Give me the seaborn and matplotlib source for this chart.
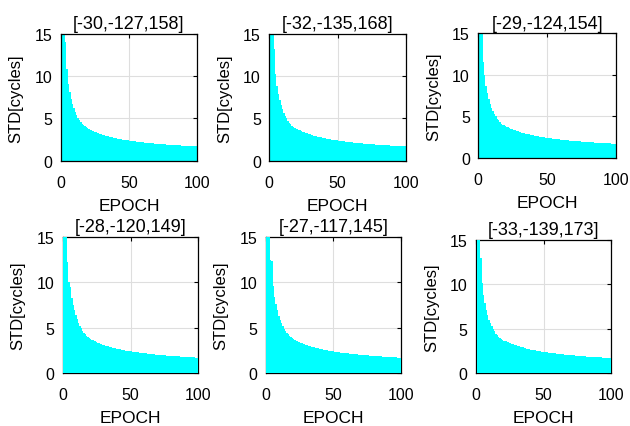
import numpy as np
import pandas as pd
import matplotlib
matplotlib.use("Agg")
import matplotlib.pyplot as plt
import seaborn as sns

# ---------------- data ----------------
epochs = list(range(1, 101))

titles = ["[-30,-127,158]", "[-32,-135,168]", "[-29,-124,154]",
          "[-28,-120,149]", "[-27,-117,145]", "[-33,-139,173]"]

# first 20 epochs read per panel
head_p1 = [25, 15.3, 14.0, 10.8, 9.1, 8.1, 7.3, 6.7, 6.2, 5.8, 5.4, 5.05, 4.8, 4.55, 4.35, 4.2, 4.05, 3.95, 3.85, 3.75]
head_p2 = [24, 15.2, 13.2, 10.3, 8.8, 7.9, 7.2, 6.6, 6.1, 5.7, 5.35, 5.0, 4.75, 4.5, 4.3, 4.15, 4.0, 3.9, 3.8, 3.7]
head_p3 = [26, 15.1, 11.5, 10.0, 8.7, 7.8, 7.1, 6.5, 6.0, 5.6, 5.3, 5.0, 4.7, 4.5, 4.3, 4.1, 4.0, 3.9, 3.8, 3.7]
head_p4 = [23, 15.0, 12.2, 10.0, 9.5, 8.3, 7.5, 6.9, 6.4, 5.9, 5.5, 5.2, 4.9, 4.65, 4.45, 4.25, 4.1, 3.95, 3.85, 3.75]
head_p5 = [22, 15.0, 12.5, 12.4, 9.6, 8.4, 7.6, 6.9, 6.3, 5.9, 5.5, 5.2, 4.9, 4.6, 4.4, 4.25, 4.1, 3.95, 3.85, 3.75]
head_p6 = [24, 15.0, 13.0, 10.1, 8.8, 7.9, 7.1, 6.5, 6.0, 5.6, 5.25, 4.95, 4.7, 4.45, 4.25, 4.1, 3.95, 3.85, 3.75, 3.65]

# epochs 21..100 (all panels look alike here)
tail = [3.66, 3.58, 3.50, 3.42, 3.35, 3.29, 3.23, 3.17, 3.11, 3.06,
        3.01, 2.96, 2.92, 2.88, 2.83, 2.80, 2.76, 2.72, 2.69, 2.65,
        2.62, 2.59, 2.56, 2.53, 2.50, 2.47, 2.45, 2.42, 2.40, 2.37,
        2.35, 2.33, 2.30, 2.28, 2.26, 2.24, 2.22, 2.20, 2.18, 2.16,
        2.15, 2.13, 2.11, 2.10, 2.08, 2.06, 2.05, 2.03, 2.02, 2.00,
        1.99, 1.98, 1.96, 1.95, 1.94, 1.92, 1.91, 1.90, 1.89, 1.88,
        1.86, 1.85, 1.84, 1.83, 1.82, 1.81, 1.80, 1.79, 1.78, 1.77,
        1.76, 1.75, 1.74, 1.73, 1.72, 1.71, 1.70, 1.69, 1.69, 1.68]

heads = [head_p1, head_p2, head_p3, head_p4, head_p5, head_p6]

xticks = [0, 50, 100]
yticks = [0, 5, 10, 15]

# ---------------- style ----------------
sns.set_theme(style="white")
plt.rcParams['font.family'] = ['Liberation Sans', 'DejaVu Sans']
plt.rcParams['text.color'] = 'black'
plt.rcParams['axes.labelcolor'] = 'black'
plt.rcParams['xtick.color'] = 'black'
plt.rcParams['ytick.color'] = 'black'

W, H = 630, 427
fig = plt.figure(figsize=(W / 100, H / 100), dpi=100)

# axes boxes in pixels: left, right, top, bottom
boxes = [(60.7, 197.3, 35.0, 161.7), (269.3, 406.0, 35.0, 161.7), (478.3, 616.0, 34.3, 158.7),
         (62.7, 198.3, 237.7, 374.0), (265.7, 401.0, 238.0, 374.0), (476.0, 611.0, 241.0, 374.0)]

for i, (head, title, (l, r, t, b)) in enumerate(zip(heads, titles, boxes)):
    ax = fig.add_axes([l / W, 1 - b / H, (r - l) / W, (b - t) / H])
    vals = head + tail
    df = pd.DataFrame({"EPOCH": epochs, "STD": vals})
    sns.barplot(data=df, x="EPOCH", y="STD", native_scale=True, width=1.0,
                color="#00FFFF", saturation=1, edgecolor="#00FFFF", linewidth=0.6,
                errorbar=None, ax=ax, zorder=3 if i >= 3 else 1, antialiased=False)
    ax.set_xlim(0, 100)
    ax.set_ylim(0, 15)
    ax.set_xticks(xticks)
    ax.set_yticks(yticks)
    ax.set_xticklabels([str(v) for v in xticks])
    ax.set_yticklabels([str(v) for v in yticks])
    ax.set_axisbelow(True)
    ax.grid(True, color="#dedede", linewidth=0.8)
    for s in ax.spines.values():
        s.set_visible(True)
        s.set_color("black")
        s.set_linewidth(0.9)
    if i >= 3:
        ax.axhline(0, color="#7aa", linewidth=0.6, linestyle=(0, (2, 2)), zorder=4)
    ax.tick_params(axis="both", direction="in", length=3, width=0.8,
                   top=True, right=True, labelsize=11.5, colors="black")
    ax.tick_params(axis="x", pad=10)
    ax.tick_params(axis="y", pad=6)
    ax.set_xlabel("EPOCH", fontsize=12.5, labelpad=6)
    ax.set_ylabel("STD[cycles]", fontsize=12, labelpad=8)
    ax.set_title(title, fontsize=13, pad=4)

fig.savefig("out.png", dpi=100)
